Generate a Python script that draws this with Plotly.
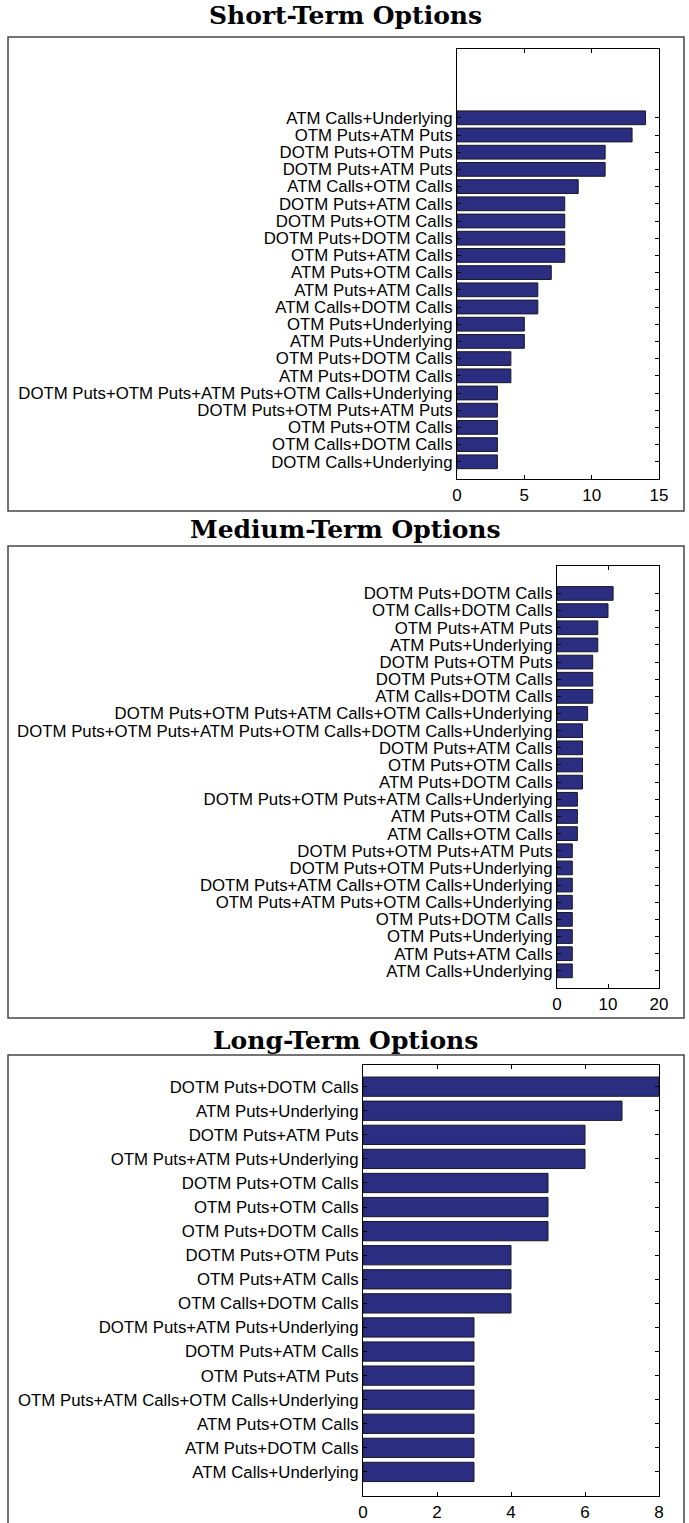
import plotly.graph_objects as go

W, H = 689, 1523

short_labels = [
    "ATM Calls+Underlying", "OTM Puts+ATM Puts", "DOTM Puts+OTM Puts", "DOTM Puts+ATM Puts",
    "ATM Calls+OTM Calls", "DOTM Puts+ATM Calls", "DOTM Puts+OTM Calls", "DOTM Puts+DOTM Calls",
    "OTM Puts+ATM Calls", "ATM Puts+OTM Calls", "ATM Puts+ATM Calls", "ATM Calls+DOTM Calls",
    "OTM Puts+Underlying", "ATM Puts+Underlying", "OTM Puts+DOTM Calls", "ATM Puts+DOTM Calls",
    "DOTM Puts+OTM Puts+ATM Puts+OTM Calls+Underlying", "DOTM Puts+OTM Puts+ATM Puts",
    "OTM Puts+OTM Calls", "OTM Calls+DOTM Calls", "DOTM Calls+Underlying",
]
short_values = [14, 13, 11, 11, 9, 8, 8, 8, 8, 7, 6, 6, 5, 5, 4, 4, 3, 3, 3, 3, 3]

medium_labels = [
    "DOTM Puts+DOTM Calls", "OTM Calls+DOTM Calls", "OTM Puts+ATM Puts", "ATM Puts+Underlying",
    "DOTM Puts+OTM Puts", "DOTM Puts+OTM Calls", "ATM Calls+DOTM Calls",
    "DOTM Puts+OTM Puts+ATM Calls+OTM Calls+Underlying",
    "DOTM Puts+OTM Puts+ATM Puts+OTM Calls+DOTM Calls+Underlying",
    "DOTM Puts+ATM Calls", "OTM Puts+OTM Calls", "ATM Puts+DOTM Calls",
    "DOTM Puts+OTM Puts+ATM Calls+Underlying", "ATM Puts+OTM Calls", "ATM Calls+OTM Calls",
    "DOTM Puts+OTM Puts+ATM Puts", "DOTM Puts+OTM Puts+Underlying",
    "DOTM Puts+ATM Calls+OTM Calls+Underlying", "OTM Puts+ATM Puts+OTM Calls+Underlying",
    "OTM Puts+DOTM Calls", "OTM Puts+Underlying", "ATM Puts+ATM Calls", "ATM Calls+Underlying",
]
medium_values = [11, 10, 8, 8, 7, 7, 7, 6, 5, 5, 5, 5, 4, 4, 4, 3, 3, 3, 3, 3, 3, 3, 3]

long_labels = [
    "DOTM Puts+DOTM Calls", "ATM Puts+Underlying", "DOTM Puts+ATM Puts",
    "OTM Puts+ATM Puts+Underlying", "DOTM Puts+OTM Calls", "OTM Puts+OTM Calls",
    "OTM Puts+DOTM Calls", "DOTM Puts+OTM Puts", "OTM Puts+ATM Calls", "OTM Calls+DOTM Calls",
    "DOTM Puts+ATM Puts+Underlying", "DOTM Puts+ATM Calls", "OTM Puts+ATM Puts",
    "OTM Puts+ATM Calls+OTM Calls+Underlying", "ATM Puts+OTM Calls", "ATM Puts+DOTM Calls",
    "ATM Calls+Underlying",
]
long_values = [8, 7, 6, 6, 5, 5, 5, 4, 4, 4, 3, 3, 3, 3, 3, 3, 3]

titles = ["Short-Term Options", "Medium-Term Options", "Long-Term Options"]
x_ranges = [[0, 15], [0, 20], [0, 8]]
x_ticks = [[0, 5, 10, 15], [0, 10, 20], [0, 2, 4, 6, 8]]
y_tops = [25, 24.6, 17.9]

# layout geometry in pixels
axes_px = [  # x0, x1, y_top, y_bottom
    (457, 659, 49, 479),
    (557, 659, 566, 988),
    (363, 659, 1065, 1496),
]
frames_px = [  # x0, x1, y_top, y_bottom
    (8, 684, 37, 511),
    (8, 684, 546, 1018),
    (8, 684, 1055, 1530),
]
title_y_px = [16, 529, 1040]

def fx(px):
    return px / W

def fy(py):
    return 1 - py / H

BAR_COLOR = "rgb(43,45,128)"
fig = go.Figure()
datasets = [(short_labels, short_values), (medium_labels, medium_values), (long_labels, long_values)]

layout_axes = {}
for i, (labels, values) in enumerate(datasets):
    n = len(labels)
    ypos = [n - k for k in range(n)]
    xa = "x" if i == 0 else f"x{i+1}"
    ya = "y" if i == 0 else f"y{i+1}"
    fig.add_trace(go.Bar(
        x=values, y=ypos, orientation="h", width=0.8,
        marker=dict(color=BAR_COLOR, line=dict(color="rgb(25,25,35)", width=1)),
        xaxis=xa, yaxis=ya, showlegend=False, hoverinfo="skip",
    ))
    x0, x1, yt, yb = axes_px[i]
    xkey = "xaxis" if i == 0 else f"xaxis{i+1}"
    ykey = "yaxis" if i == 0 else f"yaxis{i+1}"
    layout_axes[xkey] = dict(
        domain=[fx(x0), fx(x1)], anchor=ya, range=x_ranges[i],
        tickvals=x_ticks[i], ticktext=[str(t) for t in x_ticks[i]],
        ticks="inside", ticklen=4, tickwidth=1, tickcolor="black",
        showline=True, linecolor="black", linewidth=1.2, mirror="ticks",
        showgrid=False, zeroline=False, fixedrange=True, automargin=False,
        tickfont=dict(family="Liberation Sans, Arial", size=17, color="black"),
    )
    layout_axes[ykey] = dict(
        domain=[fy(yb), fy(yt)], anchor=xa, range=[0, y_tops[i]],
        tickvals=ypos, ticktext=labels,
        ticks="inside", ticklen=4, tickwidth=1, tickcolor="black",
        showline=True, linecolor="black", linewidth=1.2, mirror="ticks",
        showgrid=False, zeroline=False, fixedrange=True, automargin=False,
        tickfont=dict(family="Liberation Sans, Arial", size=16.8, color="black"),
    )

shapes = []
for (x0, x1, yt, yb) in frames_px:
    shapes.append(dict(type="rect", xref="paper", yref="paper",
                       x0=fx(x0), x1=fx(x1), y0=fy(yb), y1=fy(yt),
                       line=dict(color="rgb(70,70,70)", width=1.5), fillcolor="rgba(0,0,0,0)",
                       layer="below"))

annotations = []
for t, ty in zip(titles, title_y_px):
    annotations.append(dict(text=f"<b>{t}</b>", x=fx(346), y=fy(ty), xref="paper", yref="paper",
                            showarrow=False, xanchor="center", yanchor="middle",
                            font=dict(family="DejaVu Serif", size=25, color="black")))

fig.update_layout(
    width=W, height=H, margin=dict(l=0, r=0, t=0, b=0, autoexpand=False),
    paper_bgcolor="white", plot_bgcolor="white",
    shapes=shapes, annotations=annotations, bargap=0.2,
    **layout_axes,
)

fig.write_html(
    "out.html",
    config={"displayModeBar": False, "responsive": False},
    post_script="document.body.style.margin='0';document.body.style.overflow='hidden';",
)
